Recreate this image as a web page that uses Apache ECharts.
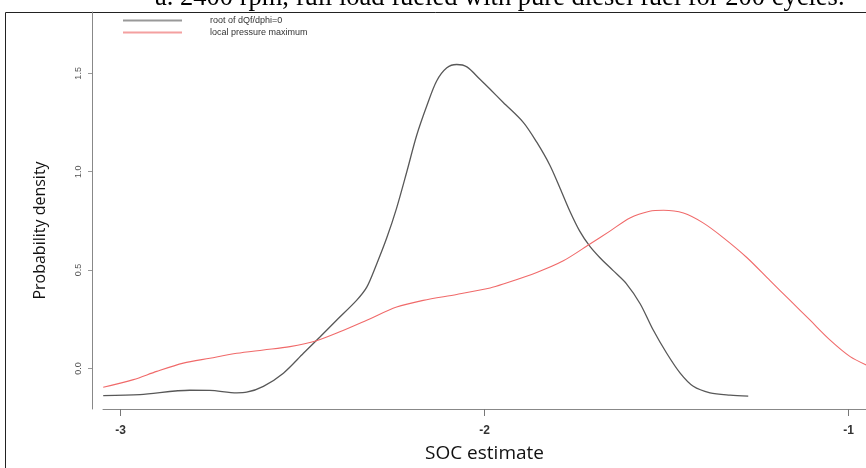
<!DOCTYPE html>
<html>
<head>
<meta charset="utf-8">
<script src="https://cdn.jsdelivr.net/npm/echarts@6/dist/echarts.min.js"></script>
<style>html,body{margin:0;padding:0;background:#fff}#c{width:866px;height:468px}</style>
</head>
<body>
<div id="c"></div>
<script>
var titleText = 'a. 2400 rpm, full load fueled with pure diesel fuel for 200 cycles.';
var seriesNames = ['root of dQf/dphi=0', 'local pressure maximum'];
var xTicks = [-3, -2, -1];
var yTicks = [0, 0.5, 1.0, 1.5];

var grayX = [-3.048, -2.947, -2.810, -2.755, -2.681, -2.654, -2.608, -2.553, -2.498, -2.452, -2.407, -2.352, -2.324, -2.297, -2.269, -2.242, -2.214, -2.187, -2.159, -2.132, -2.104, -2.077, -2.049, -2.013, -1.985, -1.949, -1.894, -1.857, -1.821, -1.793, -1.766, -1.739, -1.712, -1.684, -1.647, -1.610, -1.573, -1.537, -1.500, -1.463, -1.427, -1.381, -1.326, -1.276];
var grayY = [-0.138, -0.133, -0.111, -0.112, -0.124, -0.121, -0.091, -0.024, 0.077, 0.161, 0.245, 0.346, 0.413, 0.530, 0.664, 0.815, 1.000, 1.184, 1.335, 1.461, 1.528, 1.545, 1.533, 1.470, 1.419, 1.352, 1.251, 1.150, 1.033, 0.916, 0.799, 0.698, 0.623, 0.564, 0.497, 0.429, 0.329, 0.195, 0.077, -0.024, -0.091, -0.124, -0.136, -0.141];

var redX = [-3.048, -2.965, -2.901, -2.828, -2.755, -2.681, -2.608, -2.535, -2.462, -2.398, -2.324, -2.242, -2.169, -2.077, -1.985, -1.949, -1.857, -1.784, -1.712, -1.656, -1.601, -1.547, -1.509, -1.454, -1.400, -1.344, -1.280, -1.216, -1.161, -1.106, -1.051, -0.996, -0.952];
var redY = [-0.096, -0.057, -0.015, 0.027, 0.052, 0.077, 0.094, 0.111, 0.141, 0.186, 0.245, 0.312, 0.346, 0.376, 0.409, 0.429, 0.488, 0.547, 0.631, 0.698, 0.765, 0.799, 0.804, 0.790, 0.740, 0.664, 0.564, 0.446, 0.346, 0.245, 0.144, 0.060, 0.018];

function pairs(xs, ys) { return xs.map(function (x, i) { return [x, ys[i]]; }); }

var chart = echarts.init(document.getElementById('c'), null, { renderer: 'canvas' });
chart.setOption({
  animation: false,
  backgroundColor: '#fff',
  title: {
    text: titleText,
    left: 155,
    top: -15.5,
    padding: 0,
    textStyle: { fontFamily: 'Liberation Serif', fontSize: 26.5, fontWeight: 'normal', color: '#000' }
  },
  legend: {
    orient: 'vertical',
    left: 123,
    top: 15,
    padding: 0,
    itemWidth: 59,
    itemHeight: 2,
    itemGap: 1,
    icon: 'rect',
    data: seriesNames,
    textStyle: { fontFamily: 'Liberation Sans', fontSize: 9, color: '#333', lineHeight: 11, padding: [0, 0, 0, 23] }
  },
  grid: { left: 103, right: 0, top: 12, bottom: 55 },
  xAxis: {
    type: 'value',
    min: -3.0486,
    max: -0.9525,
    name: 'SOC estimate',
    nameLocation: 'middle',
    nameGap: 35,
    nameTextStyle: { fontFamily: 'Open Sans', fontSize: 19, color: '#111' },
    axisLine: { show: true, onZero: false, lineStyle: { color: '#888', width: 1 } },
    axisTick: { show: true, length: 7, customValues: xTicks, lineStyle: { color: '#777' } },
    axisLabel: { customValues: xTicks, margin: 16, fontFamily: 'Liberation Sans', fontSize: 12, fontWeight: 'bold', color: '#333' },
    splitLine: { show: false }
  },
  yAxis: {
    type: 'value',
    min: -0.2063,
    max: 1.812,
    offset: 11,
    name: 'Probability density',
    nameLocation: 'middle',
    nameGap: 44,
    nameRotate: 90,
    nameTextStyle: { fontFamily: 'Open Sans', fontSize: 16, color: '#111', padding: [0, 40, 0, 0] },
    axisLine: { show: true, onZero: false, lineStyle: { color: '#888', width: 1 } },
    axisTick: { show: true, length: 4, customValues: yTicks, lineStyle: { color: '#999' } },
    axisLabel: {
      customValues: yTicks, rotate: 90, margin: 9,
      fontFamily: 'Liberation Sans', fontSize: 9, color: '#555',
      formatter: function (v) { return v.toFixed(1); }
    },
    splitLine: { show: false }
  },
  series: [
    { name: seriesNames[0], type: 'line', data: pairs(grayX, grayY), showSymbol: false, smooth: 0.3,
      lineStyle: { color: '#585858', width: 1.3 }, itemStyle: { color: '#999' } },
    { name: seriesNames[1], type: 'line', data: pairs(redX, redY), showSymbol: false, smooth: 0.3,
      lineStyle: { color: '#f06a6a', width: 1.1 }, itemStyle: { color: '#f4a0a0' } }
  ],
  graphic: [
    { type: 'polyline', silent: true, shape: { points: [[5.5, 468], [5.5, 12.5], [866, 12.5]] },
      style: { stroke: '#222', lineWidth: 1, fill: null } }
  ]
});
</script>
</body>
</html>
